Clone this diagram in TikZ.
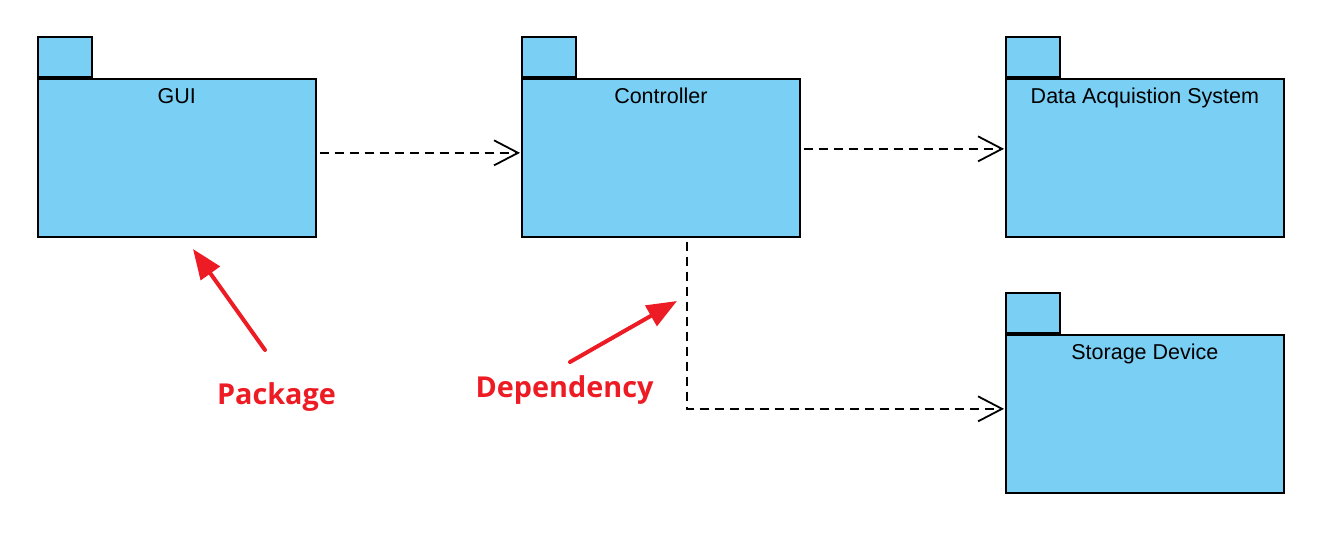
\documentclass[tikz,border=0pt]{standalone}
\usepackage{fontspec}
\setmainfont{Liberation Sans}
\newfontfamily\notefont{Open Sans}
\usetikzlibrary{arrows.meta,calc}
\definecolor{pkgblue}{HTML}{7ACFF4}
\definecolor{notered}{HTML}{ED1C24}
\tikzset{
  pkgbody/.style={draw=black, fill=pkgblue, line width=1.7pt, minimum width=278pt, minimum height=158pt, inner sep=0pt, anchor=north west},
  pkgtab/.style={draw=black, fill=pkgblue, line width=1.7pt, minimum width=54pt, minimum height=40pt, inner sep=0pt, anchor=south west},
  pkglabel/.style={font=\fontsize{21.5}{24}\selectfont, anchor=base, inner sep=0pt},
  dep/.style={draw=black, line width=1.6pt, dash pattern=on 9pt off 6pt, -{Straight Barb[length=24pt,width=25pt,line width=1.8pt]}},
  note/.style={draw=notered, line width=4pt, line cap=round, -{Triangle[length=30pt,width=23pt]}},
  notelabel/.style={text=notered, font=\notefont\bfseries\fontsize{28.8}{32}\selectfont, anchor=base, inner sep=0pt}
}
\newcommand{\pkgdraw}[4]{%
  \node[pkgbody] (#1) at (#2,#3) {};
  \node[pkgtab] (#1tab) at (#1.north west) {};
  \node[pkglabel] (#1lbl) at ($(#1.north)+(0,25)$) {#4};
}
\begin{document}
\begin{tikzpicture}[x=1pt,y=-1pt]
\useasboundingbox (0,0) rectangle (1328,536);
\pkgdraw{gui}{37}{78}{GUI}
\pkgdraw{ctrl}{521}{78}{Controller}
\pkgdraw{das}{1005}{78}{Data Acquistion System}
\pkgdraw{stor}{1005}{334}{Storage Device}

\draw[dep] ([xshift=3pt,yshift=5pt]gui.east) -- ([xshift=-1pt,yshift=5pt]ctrl.west);
\draw[dep] ([xshift=3pt,yshift=9pt]ctrl.east) -- ([xshift=-1pt,yshift=9pt]das.west);
\coordinate (cs) at ([xshift=26pt,yshift=-4pt]ctrl.south);
\coordinate (se) at ([xshift=-1pt,yshift=5pt]stor.west);
\draw[dep] (cs) |- (se);

\node[notelabel] (pkgnote) at (276.5,404) {Package};
\node[notelabel] (depnote) at (564.5,397) {Dependency};
\coordinate (pkgtail) at (265,350);
\coordinate (pkgtip) at (193,249);
\coordinate (deptail) at (570,362);
\coordinate (deptip) at (677,301);
\draw[note] (pkgtail) -- (pkgtip);
\draw[note] (deptail) -- (deptip);
\end{tikzpicture}
\end{document}
